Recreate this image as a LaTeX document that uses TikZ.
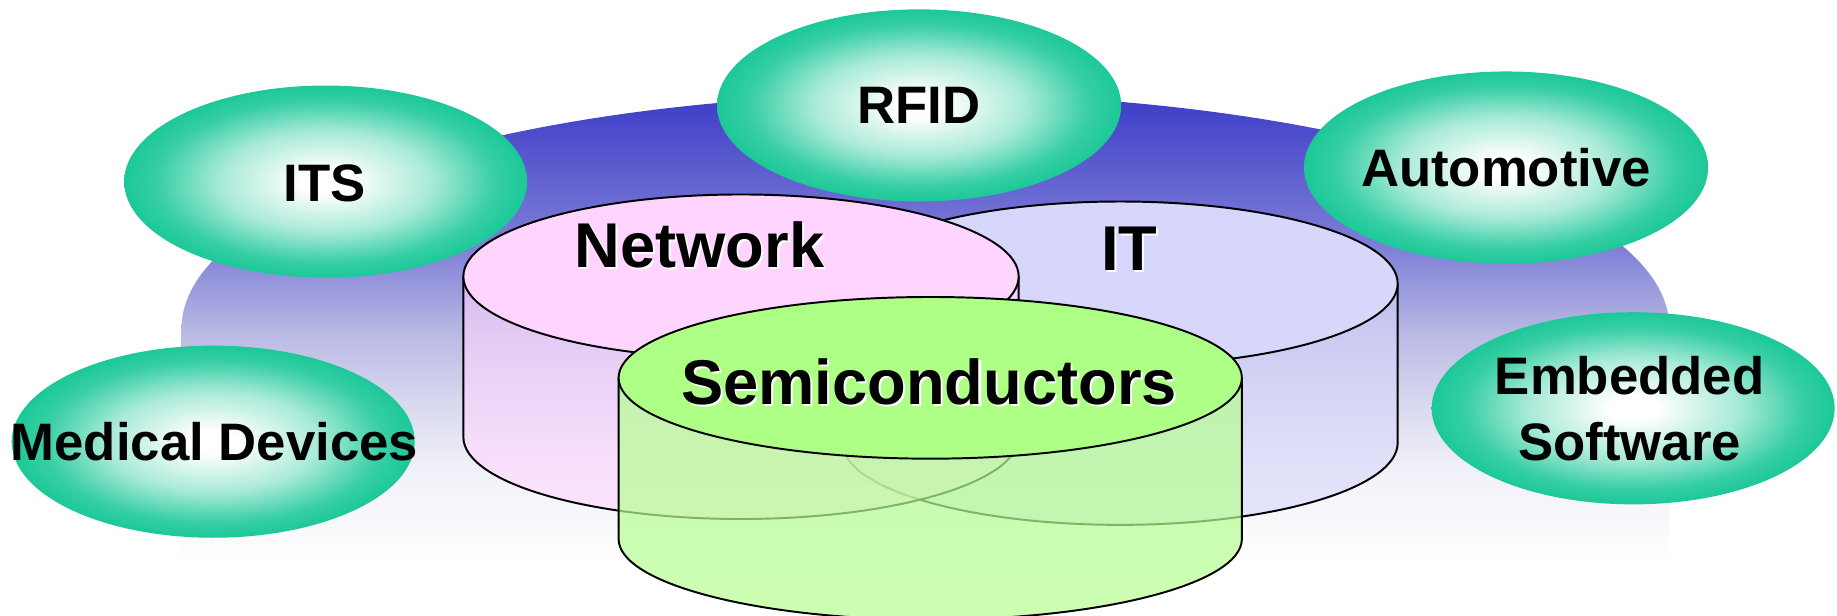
\documentclass[tikz,border=0pt]{standalone}
\usepackage{fontspec}
\setmainfont{Liberation Sans}
\definecolor{bgblue}{RGB}{60,60,200}
\definecolor{bgA}{RGB}{250,250,252}
\definecolor{bgB}{RGB}{240,240,248}
\definecolor{bgC}{RGB}{215,215,238}
\definecolor{bgD}{RGB}{185,185,228}
\definecolor{bgE}{RGB}{128,128,215}
\definecolor{tealg}{RGB}{28,200,152}
\definecolor{netpink}{RGB}{255,213,255}
\definecolor{itblue}{RGB}{215,215,251}
\definecolor{semitop}{RGB}{173,255,133}
\definecolor{semibody}{RGB}{182,255,146}
\pgfdeclareradialshading{greenball}{\pgfpoint{0bp}{0bp}}{color(0bp)=(white); color(3bp)=(white); color(13bp)=(tealg!38!white); color(21bp)=(tealg!88!white); color(25bp)=(tealg); color(50bp)=(tealg)}
\pgfdeclareverticalshading{bgshade}{100bp}{color(0bp)=(white); color(25bp)=(white); color(28.1bp)=(bgA); color(35.25bp)=(bgB); color(42.4bp)=(bgC); color(49.5bp)=(bgD); color(58.4bp)=(bgE); color(75bp)=(bgblue); color(100bp)=(bgblue)}
\tikzset{
  lbl/.style={font=\bfseries\fontsize{27}{33.6}\selectfont, inner sep=0pt, anchor=base},
  biglbl/.style={font=\bfseries\fontsize{32.4}{38}\selectfont, inner sep=0pt, anchor=base},
  shadowlbl/.style={biglbl, text=white},
  ball/.style={shading=greenball},
  cylline/.style={draw=black, line width=1pt},
}
\begin{document}
\begin{tikzpicture}[x=0.6pt,y=0.6pt]
\useasboundingbox (0,0) rectangle (1568,525);
\clip (0,0) rectangle (1568,525);
% background
\shade[shading=bgshade]
  (155,45) -- (155,245) arc[start angle=180, end angle=0, x radius=635, y radius=200] -- (1425,45) -- cycle;
% IT cylinder
\fill[itblue, fill opacity=0.6] (719,283) -- (719,147) arc[start angle=180, end angle=360, x radius=237, y radius=70] -- (1193,283) -- cycle;
\draw[cylline] (719,283) -- (719,147) arc[start angle=180, end angle=360, x radius=237, y radius=70] -- (1193,283);
\draw[cylline, fill=itblue] (956,283) ellipse [x radius=237, y radius=70];
% Network cylinder
\fill[netpink, fill opacity=0.6] (395.5,289) -- (395.5,152) arc[start angle=180, end angle=360, x radius=237, y radius=70] -- (869.5,289) -- cycle;
\draw[cylline] (395.5,289) -- (395.5,152) arc[start angle=180, end angle=360, x radius=237, y radius=70] -- (869.5,289);
\draw[cylline, fill=netpink] (632.5,289) ellipse [x radius=237, y radius=70];
% Semiconductors cylinder
\fill[semibody, fill opacity=0.7] (528,202.5) -- (528,65) arc[start angle=180, end angle=360, x radius=266, y radius=69] -- (1060,202.5) -- cycle;
\draw[cylline] (528,202.5) -- (528,65) arc[start angle=180, end angle=360, x radius=266, y radius=69] -- (1060,202.5);
\draw[cylline, fill=semitop] (794,202.5) ellipse [x radius=266, y radius=69];
% big labels
\node[shadowlbl] (netS) at (598.8,295.2) {Network};
\node[biglbl] (net) at (597,297) {Network};
\node[shadowlbl] (itS) at (965.8,292.2) {IT};
\node[biglbl] (it) at (964,294) {IT};
\node[shadowlbl] (semiS) at (794.8,178.2) {Semiconductors};
\node[biglbl] (semi) at (793,180) {Semiconductors};
% green application ellipses
\shade[ball] (278,370) ellipse [x radius=172, y radius=82];
\shade[ball] (784.5,435) ellipse [x radius=172.5, y radius=82];
\shade[ball] (1285.5,382) ellipse [x radius=172.5, y radius=82];
\shade[ball] (1394,176.5) ellipse [x radius=172, y radius=82];
\shade[ball] (182,148) ellipse [x radius=172, y radius=82];
% small labels
\node[lbl] (its) at (277,353) {ITS};
\node[lbl] (rfid) at (784.5,420) {RFID};
\node[lbl] (auto) at (1285.5,366) {Automotive};
\node[lbl, anchor=center, align=center] (emb) at (1391,176) {Embedded\\Software};
\node[lbl] (med) at (183,132) {Medical Devices};
\end{tikzpicture}
\end{document}
